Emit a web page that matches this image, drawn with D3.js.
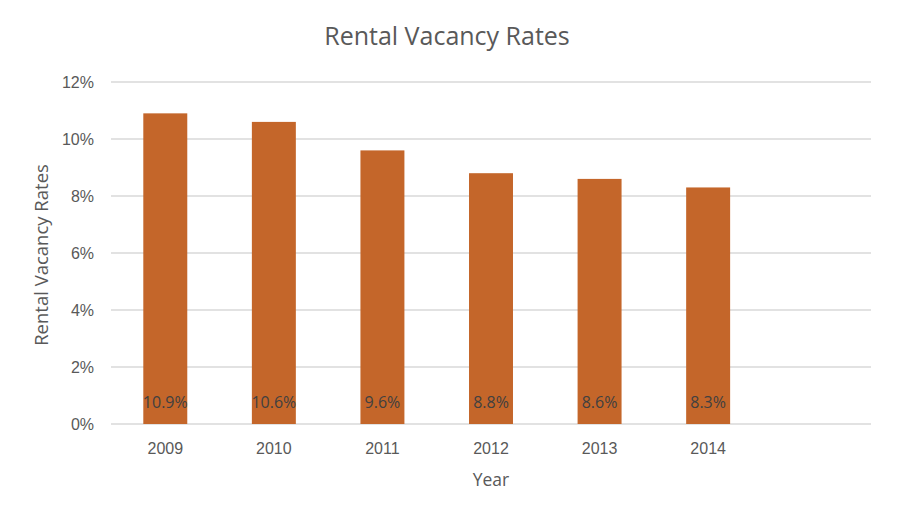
<!DOCTYPE html>
<html lang="en">
  <head>
    <meta charset="UTF-8" />
    <title>Rental Vacancy Rates</title>
    <script src="https://cdnjs.cloudflare.com/ajax/libs/d3/7.8.5/d3.min.js"></script>
    <style>
      body {
        margin: 0;
        background: #fff;
        font-family: 'Open Sans', sans-serif;
      }
      .grid line {
        stroke: #d9d9d9;
        stroke-width: 1.3px;
      }
      .tick text {
        fill: #595959;
        font-size: 16px;
      }
    </style>
  </head>
  <body>
    <svg width="897" height="519"></svg>
    <script>
      // Data (7th slot is empty in the original)
      const years = ['2009', '2010', '2011', '2012', '2013', '2014', ''];
      const rates = [10.9, 10.6, 9.6, 8.8, 8.6, 8.3];
      const yTicks = [0, 2, 4, 6, 8, 10, 12];

      const svg = d3.select('svg'),
        width = +svg.attr('width'),
        height = +svg.attr('height');

      const margin = { top: 82, right: 26, bottom: 95, left: 111 };

      const x = d3
        .scaleBand()
        .domain(years)
        .range([margin.left, width - margin.right])
        .paddingInner(0.595)
        .paddingOuter(0.2975);

      const y = d3
        .scaleLinear()
        .domain([0, 12])
        .range([height - margin.bottom, margin.top]);

      // Gridlines
      svg
        .append('g')
        .attr('class', 'grid')
        .selectAll('line')
        .data(yTicks)
        .enter()
        .append('line')
        .attr('x1', margin.left)
        .attr('x2', width - margin.right)
        .attr('y1', d => y(d))
        .attr('y2', d => y(d));

      // Y axis labels
      const yAxis = svg
        .append('g')
        .attr('transform', `translate(${margin.left - 17},0)`)
        .call(
          d3
            .axisLeft(y)
            .tickValues(yTicks)
            .tickFormat(d => d + '%')
            .tickSize(0)
            .tickPadding(0),
        );
      yAxis.select('.domain').remove();

      // X axis labels
      const xAxis = svg
        .append('g')
        .attr('transform', `translate(0,${height - margin.bottom})`)
        .call(d3.axisBottom(x).tickSize(0).tickPadding(19));
      xAxis.select('.domain').remove();

      // Bars
      svg
        .selectAll('.bar')
        .data(rates)
        .enter()
        .append('rect')
        .attr('class', 'bar')
        .attr('x', (d, i) => x(years[i]))
        .attr('width', x.bandwidth())
        .attr('y', d => y(d))
        .attr('height', d => y(0) - y(d))
        .attr('fill', '#c4662a');

      // Value labels at the bottom of each bar
      svg
        .selectAll('.val')
        .data(rates)
        .enter()
        .append('text')
        .attr('class', 'val')
        .attr('x', (d, i) => x(years[i]) + x.bandwidth() / 2)
        .attr('y', y(0) - 16)
        .attr('text-anchor', 'middle')
        .attr('fill', '#404040')
        .style('font-size', '16px')
        .text(d => d.toFixed(1) + '%');

      // Title
      svg
        .append('text')
        .attr('x', (margin.left + width - margin.right) / 2 - 44)
        .attr('y', 45)
        .attr('text-anchor', 'middle')
        .attr('fill', '#595959')
        .style('font-size', '25px')
        .text('Rental Vacancy Rates');

      // Axis titles
      svg
        .append('text')
        .attr('x', (margin.left + width - margin.right) / 2)
        .attr('y', 486)
        .attr('text-anchor', 'middle')
        .attr('fill', '#595959')
        .style('font-size', '17.5px')
        .text('Year');

      svg
        .append('text')
        .attr('transform', `translate(48,${y(6) + 2}) rotate(-90)`)
        .attr('text-anchor', 'middle')
        .attr('fill', '#595959')
        .style('font-size', '18.5px')
        .text('Rental Vacancy Rates');
    </script>
  </body>
</html>
